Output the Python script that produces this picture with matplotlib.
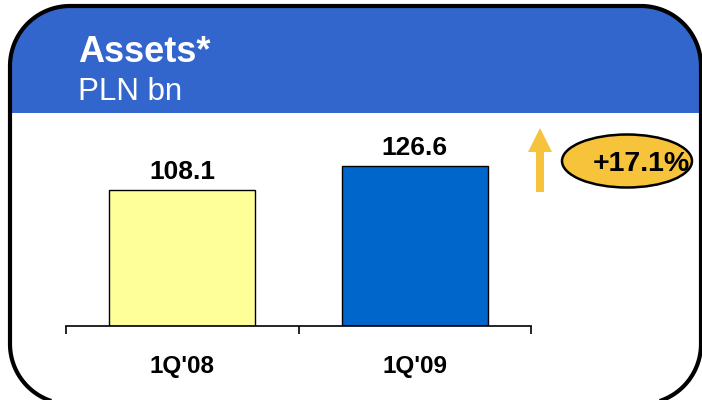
import numpy as np
import matplotlib.pyplot as plt
from matplotlib.patches import Polygon, Rectangle, Ellipse, FancyArrow

plt.rcParams['font.family'] = ['Liberation Sans', 'DejaVu Sans']

# data
quarters = ["1Q'08", "1Q'09"]
assets = [108.1, 126.6]
bar_colors = ['#FFFF99', '#0066CC']
growth_label = '+17.1%'


def rounded_outline(x0, y0, x1, y1, r, n=40):
    # corner arcs as plain line segments (y grows downward)
    pts = []
    corners = [(x1 - r, y0 + r, -90, 0), (x1 - r, y1 - r, 0, 90),
               (x0 + r, y1 - r, 90, 180), (x0 + r, y0 + r, 180, 270)]
    for cx, cy, a0, a1 in corners:
        t = np.radians(np.linspace(a0, a1, n))
        pts += list(zip(cx + r * np.cos(t), cy + r * np.sin(t)))
    return pts


fig = plt.figure(figsize=(7.02, 4.0), dpi=100)

# background panel in pixel coordinates
bg = fig.add_axes([0, 0, 1, 1], zorder=0)
bg.set_xlim(0, 702)
bg.set_ylim(400, 0)
bg.axis('off')

outline = rounded_outline(10, 6, 701, 404, 60)
panel = Polygon(outline, closed=True, fc='white', ec='none')
bg.add_patch(panel)
header = Rectangle((0, 0), 702, 113, fc='#3366CC', ec='none')
header.set_clip_path(panel)
bg.add_patch(header)
bg.add_patch(Polygon(outline, closed=True, fc='none', ec='black', lw=3, joinstyle='round'))

bg.text(78, 62, 'Assets*', color='white', fontsize=26, fontweight='bold', va='baseline')
bg.text(78, 100, 'PLN bn', color='white', fontsize=22.5, va='baseline')

# growth arrow and badge
bg.add_patch(FancyArrow(540, 192, 0, -64, width=8, head_width=24, head_length=24,
                        length_includes_head=True, color='#F6C33C', lw=0))
bg.add_patch(Ellipse((627, 161), 130, 53, fc='#F6C33A', ec='black', lw=1.8))
bg.text(641, 164, growth_label, fontsize=20.5, fontweight='bold', ha='center', va='center')

# bar chart
ax = fig.add_axes([66 / 702, 74 / 400, 465 / 702, 164 / 400], zorder=1)
ax.patch.set_alpha(0)
x = range(len(quarters))
ax.bar(x, assets, width=0.63, color=bar_colors, edgecolor='black', linewidth=1)
for i, v in enumerate(assets):
    ax.annotate(f'{v}', (i, v), xytext=(0, 8), textcoords='offset points',
                ha='center', va='baseline', fontsize=19, fontweight='bold')

ax.set_xlim(-0.5, 1.5)
ax.set_ylim(0, 130)
for s in ['top', 'left', 'right']:
    ax.spines[s].set_visible(False)
ax.spines['bottom'].set_linewidth(1.2)
ax.set_yticks([])
ax.set_xticks(list(x))
ax.set_xticklabels(quarters, fontsize=17.5, fontweight='bold')
ax.tick_params(axis='x', which='major', length=0, pad=21)
ax.set_xticks([-0.5, 0.5, 1.5], minor=True)
ax.tick_params(axis='x', which='minor', length=6, width=1.2, direction='out')

fig.savefig('out.png', dpi=100)
